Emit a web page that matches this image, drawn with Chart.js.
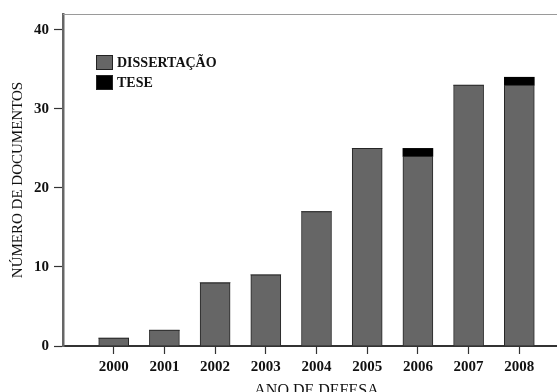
<!DOCTYPE html>
<html>
<head>
<meta charset="utf-8">
<script src="https://cdn.jsdelivr.net/npm/chart.js@4"></script>
<style>
  body { margin: 0; background: #fff; }
  #wrap { width: 557px; height: 392px; overflow: hidden; }
  canvas { display: block; }
</style>
</head>
<body>
<div id="wrap"><canvas id="grafico" width="570" height="400"></canvas></div>
<script>
// anos de defesa e número de documentos por tipo
const anos = [2000, 2001, 2002, 2003, 2004, 2005, 2006, 2007, 2008];
const dissertacao = [1, 2, 8, 9, 17, 25, 24, 33, 33];
const tese = [0, 0, 0, 0, 0, 0, 1, 0, 1];
const yTicks = [0, 10, 20, 30, 40];

const serif = 'Liberation Serif, Times New Roman, serif';

// legenda desenhada dentro da área do gráfico
const legendaInterna = {
  id: 'legendaInterna',
  afterDraw(chart) {
    const c = chart.ctx;
    const a = chart.chartArea;
    c.save();
    // linha superior da moldura
    c.strokeStyle = '#9a9a9a';
    c.lineWidth = 1;
    c.beginPath();
    c.moveTo(a.left, a.top + 0.5);
    c.lineTo(a.right, a.top + 0.5);
    c.stroke();

    c.font = 'bold 14px ' + serif;
    c.textBaseline = 'middle';
    chart.data.datasets.forEach((ds, i) => {
      const x = a.left + 33;
      const y = a.top + 41 + i * 20;
      c.fillStyle = ds.backgroundColor;
      c.fillRect(x, y, 17, 15);
      c.strokeStyle = '#222';
      c.strokeRect(x + 0.5, y + 0.5, 16, 14);
      c.fillStyle = '#111';
      c.fillText(ds.label, x + 21, y + 8);
    });
    c.restore();
  }
};

new Chart(document.getElementById('grafico'), {
  type: 'bar',
  data: {
    datasets: [
      {
        label: 'DISSERTAÇÃO',
        data: anos.map((a, i) => ({ x: a, y: dissertacao[i] })),
        backgroundColor: '#666666',
        borderColor: '#262626',
        borderWidth: 1,
        barThickness: 30
      },
      {
        label: 'TESE',
        data: anos.map((a, i) => ({ x: a, y: tese[i] })),
        backgroundColor: '#000000',
        borderWidth: 0,
        barThickness: 30
      }
    ]
  },
  options: {
    responsive: false,
    animation: false,
    layout: { padding: { top: 13, left: 0, right: 0, bottom: 0 } },
    plugins: {
      legend: { display: false },
      tooltip: { enabled: false }
    },
    scales: {
      x: {
        type: 'linear',
        stacked: true,
        offset: false,
        min: 1999,
        max: 2009,
        afterBuildTicks: s => { s.ticks = anos.map(v => ({ value: v })); },
        afterFit: s => { s.height = 54; },
        ticks: {
          padding: 4,
          maxRotation: 0,
          autoSkip: false,
          color: '#111',
          font: { family: serif, size: 15, weight: 'bold' },
          callback: v => String(v)
        },
        grid: { offset: false, drawOnChartArea: false, tickLength: 8, tickColor: '#333', tickWidth: 1.2 },
        border: { color: '#333', width: 2 },
        title: {
          display: true,
          text: 'ANO DE DEFESA',
          color: '#111',
          font: { family: serif, size: 16 },
          padding: 0
        }
      },
      y: {
        stacked: true,
        min: 0,
        max: 42,
        afterBuildTicks: s => { s.ticks = yTicks.map(v => ({ value: v })); },
        afterFit: s => { s.width = 63; },
        ticks: {
          padding: 5,
          color: '#111',
          font: { family: serif, size: 15, weight: 'bold' }
        },
        grid: { drawOnChartArea: false, tickLength: 9, tickColor: '#333', tickWidth: 1.2 },
        border: { color: '#666', width: 2.5 },
        title: {
          display: true,
          text: 'NÚMERO DE DOCUMENTOS',
          color: '#111',
          font: { family: serif, size: 15 },
          padding: { top: 9, bottom: 0 }
        }
      }
    }
  },
  plugins: [legendaInterna]
});
</script>
</body>
</html>
